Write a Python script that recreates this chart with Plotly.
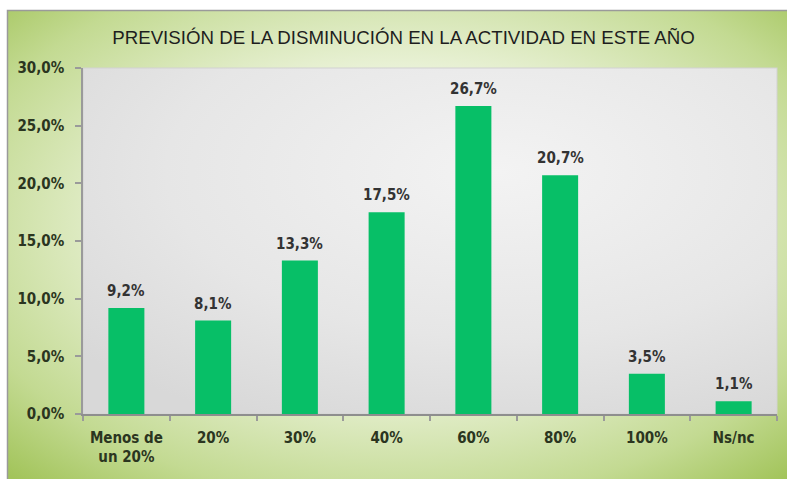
import base64
import plotly.graph_objects as go

categories = ["Menos de<br>un 20%", "20%", "30%", "40%", "60%", "80%", "100%", "Ns/nc"]
values = [9.2, 8.1, 13.3, 17.5, 26.7, 20.7, 3.5, 1.1]
y_tick_vals = [0, 5, 10, 15, 20, 25, 30]
y_tick_text = ["0,0%", "5,0%", "10,0%", "15,0%", "20,0%", "25,0%", "30,0%"]
grid_vals = [5, 10, 15, 20, 25]
title_text = "PREVISIÓN DE LA DISMINUCIÓN EN LA ACTIVIDAD EN ESTE AÑO"

W, H = 787, 479
ML, MR, MT, MB = 83, 10, 68, 65
PW, PH = W - ML - MR, H - MT - MB

FONT = "DejaVu Sans Condensed, DejaVu Sans, sans-serif"

# background: green radial chart box with border, gray plot area
svg = f"""<svg xmlns='http://www.w3.org/2000/svg' width='{W}' height='{H}' viewBox='0 0 {W} {H}' preserveAspectRatio='none'>
<defs>
<radialGradient id='g' cx='0.5' cy='0.45' r='0.72'>
<stop offset='0' stop-color='#fbfdf6'/>
<stop offset='0.45' stop-color='#eaf2d8'/>
<stop offset='0.8' stop-color='#c3da92'/>
<stop offset='1' stop-color='#a2c45a'/>
</radialGradient>
<radialGradient id='p' cx='0.6' cy='0.3' r='0.8'>
<stop offset='0' stop-color='#f3f3f3'/>
<stop offset='0.6' stop-color='#e6e6e6'/>
<stop offset='1' stop-color='#d8d8d8'/>
</radialGradient>
</defs>
<rect x='0' y='0' width='{W}' height='{H}' fill='#ffffff'/>
<rect x='7.5' y='10.5' width='{W}' height='{H}' fill='url(#g)' stroke='#9a9a9a' stroke-width='1.5'/>
<rect x='{ML}' y='{MT}' width='{PW}' height='{PH}' fill='url(#p)' stroke='#d2d2d2' stroke-width='1'/>
</svg>"""
src = "data:image/svg+xml;base64," + base64.b64encode(svg.encode()).decode()

fig = go.Figure()
fig.add_trace(go.Bar(
    x=categories, y=values, yaxis="y2",
    marker=dict(color="#07bf67", line=dict(width=0)),
    hoverinfo="skip",
))

# value labels above bars
for c, v in zip(categories, values):
    fig.add_annotation(
        x=c, y=v, xref="x", yref="y2",
        text=f"{v:.1f}%".replace(".", ","),
        showarrow=False, yanchor="middle", yshift=17,
        font=dict(family=FONT, size=15, color="#333333", weight="bold"),
    )

fig.add_layout_image(dict(
    source=src, xref="paper", yref="paper",
    x=-ML / PW, y=1 + MT / PH, sizex=W / PW, sizey=H / PH,
    xanchor="left", yanchor="top", sizing="stretch", layer="below",
))

fig.update_layout(
    width=W, height=H,
    margin=dict(l=ML, r=MR, t=MT, b=MB, pad=0),
    paper_bgcolor="#ffffff", plot_bgcolor="rgba(0,0,0,0)",
    separators=",.",
    bargap=0.585,
    showlegend=False,
    title=dict(text=title_text, x=403.5 / W, xref="container", xanchor="center",
               y=1 - 37 / H, yref="container", yanchor="middle",
               font=dict(family="Liberation Sans, Arial, sans-serif", size=18.7, color="#1e1e1e")),
    font=dict(family=FONT, size=15, color="#2b3520"),
    yaxis=dict(
        range=[0, 30], tickvals=grid_vals, showticklabels=False, ticks="",
        showgrid=True, gridcolor="#8e8e8e", gridwidth=1.5,
        showline=False, zeroline=False,
    ),
    yaxis2=dict(
        overlaying="y", side="left",
        range=[0, 30], tickvals=y_tick_vals, ticktext=y_tick_text,
        showgrid=False, zeroline=False,
        showline=True, linecolor="#9a9a9a", linewidth=1.5,
        ticks="outside", ticklen=6, tickcolor="#9a9a9a", tickwidth=1.5,
        ticklabelstandoff=8,
        tickfont=dict(family=FONT, size=15, color="#2b3520", weight="bold"),
    ),
)
fig.update_xaxes(
    showline=True, linecolor="#8e8e8e", linewidth=1.5,
    ticks="outside", ticklen=5, tickcolor="#9a9a9a", tickwidth=1.5,
    tickson="boundaries", tickfont=dict(family=FONT, size=15, color="#2b3520", weight="bold"),
    ticklabelstandoff=9,
)

fig.write_html("out.html", config={"displayModeBar": False},
               post_script="document.body.style.margin='0';")
